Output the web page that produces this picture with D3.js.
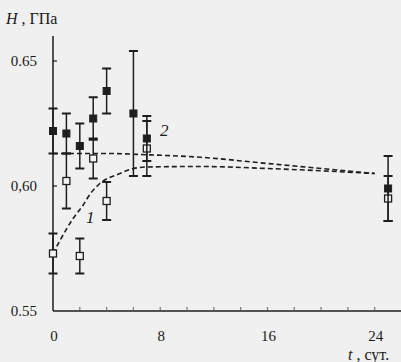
<!DOCTYPE html>
<html>
<head>
<meta charset="utf-8">
<script src="https://cdn.jsdelivr.net/npm/d3@7"></script>
<style>
  body { margin: 0; background: #f0f0f0; }
  svg { display: block; }
  text { font-family: "Liberation Serif", "Times New Roman", serif; fill: #1a1a1a; }
</style>
</head>
<body>
<svg id="chart" width="401" height="362"></svg>
<script>
// series 1 (open squares) and series 2 (filled squares)
const days = [0, 1, 2, 3, 4, 6, 7, 25];
const openH = [0.573, 0.602, 0.572, 0.611, 0.594, null, 0.615, 0.595];
const openErr = [0.008, 0.011, 0.007, 0.008, 0.0076, null, 0.011, 0.009];
const filledH = [0.622, 0.621, 0.616, 0.627, 0.638, 0.629, 0.619, 0.599];
const filledErr = [0.009, 0.008, 0.009, 0.0085, 0.009, 0.025, 0.009, 0.013];

// dashed fit curves
const curve1T = [0, 0.5, 1.5, 2.2, 2.8, 3.5, 5, 6, 7, 11, 16, 24];
const curve1H = [0.573, 0.578, 0.587, 0.592, 0.597, 0.601, 0.605, 0.607, 0.6076, 0.6078, 0.607, 0.605];
const curve2T = [0, 4, 7, 11, 16, 24];
const curve2H = [0.613, 0.613, 0.6125, 0.6115, 0.609, 0.605];

const xTicks = [0, 8, 16, 24];
const xMinor = d3.range(0, 26, 2);
const yTicks = [0.55, 0.60, 0.65];
const yLabels = ["0.55", "0,60", "0.65"];

const svg = d3.select("#chart");
const x = d3.scaleLinear().domain([0, 26]).range([53, 401.5]);
const y = d3.scaleLinear().domain([0.55, 0.65]).range([311, 61]);
const ink = "#1e1e1e";

// axes
svg.append("line").attr("x1", x(0)).attr("x2", 401).attr("y1", y(0.55)).attr("y2", y(0.55))
  .attr("stroke", ink).attr("stroke-width", 1.5);
svg.append("line").attr("x1", x(0)).attr("x2", x(0)).attr("y1", y(0.55)).attr("y2", 36)
  .attr("stroke", ink).attr("stroke-width", 1.5);

svg.selectAll(".xminor").data(xMinor.slice(1)).enter().append("line")
  .attr("x1", d => x(d)).attr("x2", d => x(d))
  .attr("y1", y(0.55) - 1).attr("y2", y(0.55) - 4)
  .attr("stroke", "#777").attr("stroke-width", 1.2);

svg.selectAll(".ytick").data(yTicks.slice(1)).enter().append("line")
  .attr("x1", x(0)).attr("x2", x(0) + 4)
  .attr("y1", d => y(d)).attr("y2", d => y(d))
  .attr("stroke", ink).attr("stroke-width", 1.2);

svg.selectAll(".ylab").data(yTicks).enter().append("text")
  .attr("x", 37).attr("y", d => y(d)).attr("dy", "0.35em")
  .attr("text-anchor", "end").attr("font-size", 15)
  .text((d, i) => yLabels[i]);

svg.selectAll(".xlab").data(xTicks).enter().append("text")
  .attr("x", d => x(d) + 1).attr("y", 341)
  .attr("text-anchor", "middle").attr("font-size", 15)
  .text(d => d);

// axis titles
const yt = svg.append("text").attr("x", 6).attr("y", 24).attr("font-size", 16);
yt.append("tspan").attr("font-style", "italic").text("H");
yt.append("tspan").text(" , ГПа");
const xt = svg.append("text").attr("x", 348).attr("y", 360).attr("font-size", 16);
xt.append("tspan").attr("font-style", "italic").text("t");
xt.append("tspan").text(" , сут.");

// dashed curves
const line = d3.line().x(d => x(d[0])).y(d => y(d[1])).curve(d3.curveMonotoneX);
[[curve1T, curve1H], [curve2T, curve2H]].forEach(([ts, hs]) => {
  svg.append("path")
    .datum(ts.map((t, i) => [t, hs[i]]))
    .attr("d", line)
    .attr("fill", "none").attr("stroke", ink)
    .attr("stroke-width", 1.6).attr("stroke-dasharray", "5,3");
});

// error bars and markers
function drawSeries(vals, errs, filled) {
  const pts = days.map((t, i) => ({ t, v: vals[i], e: errs[i] })).filter(d => d.v != null);
  const g = svg.append("g");
  g.selectAll("line.bar").data(pts).enter().append("line").attr("class", "bar")
    .attr("x1", d => x(d.t)).attr("x2", d => x(d.t))
    .attr("y1", d => y(d.v - d.e)).attr("y2", d => y(d.v + d.e))
    .attr("stroke", ink).attr("stroke-width", 1.5);
  [1, -1].forEach((s, k) => {
    g.selectAll("line.cap" + k).data(pts).enter().append("line").attr("class", "cap" + k)
      .attr("x1", d => x(d.t) - 4.5).attr("x2", d => x(d.t) + 4.5)
      .attr("y1", d => y(d.v + s * d.e))
      .attr("y2", d => y(d.v + s * d.e))
      .attr("stroke", ink).attr("stroke-width", 2);
  });
  g.selectAll("rect.pt").data(pts).enter().append("rect").attr("class", "pt")
    .attr("x", d => x(d.t) - 3.5).attr("y", d => y(d.v) - 3.5)
    .attr("width", 7).attr("height", 7)
    .attr("fill", filled ? ink : "#f4f4f4")
    .attr("stroke", ink).attr("stroke-width", filled ? 1 : 1.3);
}
drawSeries(openH, openErr, false);
drawSeries(filledH, filledErr, true);

// curve labels
svg.append("text").attr("x", 86).attr("y", 223).attr("font-size", 17)
  .attr("font-style", "italic").text("1");
svg.append("text").attr("x", 160).attr("y", 136).attr("font-size", 17)
  .attr("font-style", "italic").text("2");
</script>
</body>
</html>
